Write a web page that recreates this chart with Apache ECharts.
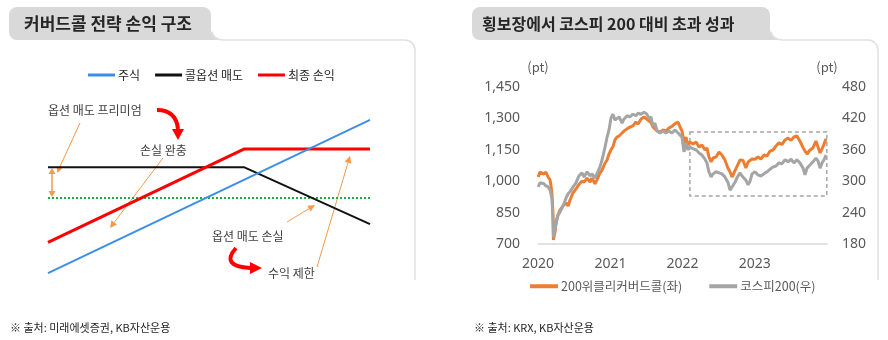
<!DOCTYPE html>
<html>
<head>
<meta charset="utf-8">
<script src="https://cdn.jsdelivr.net/npm/echarts@6/dist/echarts.min.js"></script>
<style>
  html, body { margin: 0; padding: 0; background: #ffffff; }
  #chart { width: 888px; height: 340px; }
</style>
</head>
<body>
<div id="chart"></div>
<script>
// ---- Covered call payoff structure (underlying price vs. P&L) ----
const payoffPrice   = [0, 61, 100];
const stockPnl      = [-49, 12, 51];
const callSellPnl   = [20, 20, -17];
const finalPnl      = [-29, 32, 32];
const breakEvenLine = [0, 0, 0];

// ---- 200 weekly covered call vs. KOSPI 200 ----
const tradeDates = [
  '2020-01-02','2020-01-11','2020-01-21','2020-01-31','2020-02-10','2020-02-21','2020-03-02','2020-03-07','2020-03-12','2020-03-17',
  '2020-03-19','2020-03-27','2020-04-01','2020-04-11','2020-04-21','2020-05-06','2020-05-22','2020-06-01','2020-06-11','2020-06-26',
  '2020-07-11','2020-07-26','2020-08-10','2020-08-21','2020-09-05','2020-09-20','2020-09-30','2020-10-15','2020-10-25','2020-11-09',
  '2020-11-20','2020-12-05','2020-12-15','2020-12-25','2021-01-04','2021-01-14','2021-01-24','2021-02-03','2021-02-14','2021-03-01',
  '2021-03-11','2021-03-26','2021-04-10','2021-04-25','2021-05-10','2021-05-21','2021-06-05','2021-06-20','2021-07-05','2021-07-15',
  '2021-07-25','2021-08-04','2021-08-14','2021-08-25','2021-09-09','2021-09-24','2021-10-09','2021-10-24','2021-11-08','2021-11-24',
  '2021-12-09','2021-12-19','2021-12-29','2022-01-08','2022-01-18','2022-01-28','2022-02-07','2022-02-23','2022-03-10','2022-03-25',
  '2022-04-09','2022-04-24','2022-05-04','2022-05-14','2022-05-25','2022-06-04','2022-06-19','2022-07-04','2022-07-19','2022-08-03',
  '2022-08-18','2022-08-29','2022-09-08','2022-09-23','2022-10-08','2022-10-18','2022-11-02','2022-11-17','2022-11-28','2022-12-08',
  '2022-12-18','2023-01-02','2023-01-17','2023-02-01','2023-02-16','2023-03-04','2023-03-19','2023-04-03','2023-04-18','2023-05-03',
  '2023-05-18','2023-06-03','2023-06-18','2023-07-03','2023-07-18','2023-08-02','2023-08-17','2023-09-02','2023-09-12','2023-09-22',
  '2023-10-07','2023-10-22','2023-11-06','2023-11-16','2023-11-27','2023-12-07','2023-12-17','2023-12-27'
];
const weeklyCoveredCall = [
  1020,1044,1053,1034,1044,1020,1006,977,934,839,
  719,757,805,839,862,882,896,882,910,944,
  963,985,1000,996,1015,996,1015,987,1006,1039,
  1053,1087,1101,1130,1150,1165,1197,1211,1216,1230,
  1240,1250,1259,1264,1283,1273,1297,1307,1295,1290,
  1280,1259,1268,1240,1235,1245,1240,1254,1262,1275,
  1283,1259,1240,1182,1211,1173,1187,1178,1187,1163,
  1173,1149,1159,1116,1092,1111,1116,1139,1125,1101,
  1063,1044,1020,1050,1080,1101,1100,1063,1092,1100,
  1106,1105,1116,1106,1125,1120,1144,1149,1168,1183,
  1175,1197,1206,1195,1211,1216,1192,1160,1144,1130,
  1149,1159,1192,1197,1135,1154,1178,1202
];
const kospi200 = [
  289,297,298,295,291,289,283,275,264,222,
  193,207,218,235,241,252,268,276,280,289,
  297,310,316,308,318,310,314,306,308,327,
  341,365,384,398,421,428,417,415,423,411,
  419,425,423,428,425,430,428,432,428,419,
  423,405,411,396,392,396,392,396,392,398,
  392,390,384,356,373,360,365,362,360,354,
  350,342,335,318,308,314,318,316,314,308,
  298,283,289,298,310,316,308,302,293,300,
  314,318,312,310,314,318,323,327,329,335,
  333,341,337,342,335,341,335,325,312,325,
  331,337,344,339,325,335,341,350
];
const leftTicks  = { min: 700, max: 1450, step: 150 };
const rightTicks = { min: 180, max: 480, step: 60 };
// sideways-market window (dashed box)
const rangeWindow = { from: '2022-02-07', to: '2023-12-31', low: 929, high: 1235 };

const KR = '"Noto Sans CJK KR", "Noto Sans", sans-serif';
const ORANGE_ANN = '#f39a4c';
const FRAME = '#e0e0e0';
const TAB = '#d9d9d9';

function pairs(xs, ys) { return xs.map((x, i) => [x, ys[i]]); }

// thin straight arrow with a triangular head at (x2, y2)
function arrow(x1, y1, x2, y2, color, width, len, half) {
  const a = Math.atan2(y2 - y1, x2 - x1);
  const bx = x2 - len * Math.cos(a), by = y2 - len * Math.sin(a);
  const px = -Math.sin(a) * half, py = Math.cos(a) * half;
  return [
    { type: 'line', silent: true, shape: { x1: x1, y1: y1, x2: bx, y2: by }, style: { stroke: color, lineWidth: width } },
    { type: 'polygon', silent: true, shape: { points: [[x2, y2], [bx + px, by + py], [bx - px, by - py]] }, style: { fill: color } }
  ];
}
function head(tipX, tipY, fromX, fromY, color, len, half) {
  const a = Math.atan2(tipY - fromY, tipX - fromX);
  const bx = tipX - len * Math.cos(a), by = tipY - len * Math.sin(a);
  const px = -Math.sin(a) * half, py = Math.cos(a) * half;
  return { type: 'polygon', silent: true, shape: { points: [[tipX, tipY], [bx + px, by + py], [bx - px, by - py]] }, style: { fill: color } };
}
function txt(x, y, s, size, color, weight) {
  return { type: 'text', silent: true, x: x, y: y,
    style: { text: s, fill: color, font: (weight || 'normal') + ' ' + size + 'px ' + KR, textVerticalAlign: 'middle', textAlign: 'left' } };
}
// title tab with a flared bottom-right corner, plus the panel frame (top edge + right side)
function panel(tabLeft, tabRight, frameRight) {
  const top = 7, bottom = 40, fx = tabRight + 12;
  const flare = [[tabRight, bottom - 10]];
  for (let i = 1; i <= 8; i++) {
    const t = i / 8;
    const x = (1 - t) * (1 - t) * tabRight + 2 * t * (1 - t) * (tabRight + 2) + t * t * fx;
    const y = (1 - t) * (1 - t) * (bottom - 10) + 2 * t * (1 - t) * bottom + t * t * bottom;
    flare.push([x, y]);
  }
  flare.push([tabRight, bottom]);
  return [
    { type: 'rect', silent: true, shape: { x: tabLeft, y: top, width: tabRight - tabLeft, height: bottom - top, r: [8, 8, 0, 8] }, style: { fill: TAB } },
    { type: 'polygon', silent: true, shape: { points: flare }, style: { fill: TAB } },
    { type: 'bezierCurve', silent: true, shape: { x1: tabRight + 1, y1: bottom - 8, cpx1: tabRight + 3, cpy1: bottom, x2: fx + 1, y2: bottom }, style: { stroke: FRAME, lineWidth: 1.5, fill: null } },
    { type: 'line', silent: true, shape: { x1: fx + 1, y1: bottom, x2: frameRight - 10, y2: bottom }, style: { stroke: FRAME, lineWidth: 1.5 } },
    { type: 'arc', silent: true, shape: { cx: frameRight - 10, cy: bottom + 10, r: 10, startAngle: -Math.PI / 2, endAngle: 0 }, style: { stroke: FRAME, lineWidth: 1.5, fill: null } },
    { type: 'line', silent: true, shape: { x1: frameRight, y1: bottom + 10, x2: frameRight, y2: 280 }, style: { stroke: FRAME, lineWidth: 1.5 } }
  ];
}

const chart = echarts.init(document.getElementById('chart'), null, { renderer: 'canvas' });

const graphics = [
  ...panel(9, 211, 415),
  ...panel(472, 770, 878),
  txt(24, 24, '커버드콜 전략 손익 구조', 17, '#262626', 'bold'),
  txt(482, 24, '횡보장에서 코스피 200 대비 초과 성과', 16, '#262626', 'bold'),
  txt(10, 328, '※ 출처: 미래에셋증권, KB자산운용', 11, '#262626'),
  txt(474, 328, '※ 출처: KRX, KB자산운용', 11, '#262626'),
  // payoff annotations
  txt(48, 110, '옵션 매도 프리미엄', 12, '#404040'),
  txt(140, 150, '손실 완충', 12, '#404040'),
  txt(212, 236, '옵션 매도 손실', 12, '#404040'),
  txt(268, 273, '수익 제한', 12, '#404040'),
  // red curved arrows
  { type: 'bezierCurve', silent: true, shape: { x1: 157, y1: 110, cpx1: 176, cpy1: 110, x2: 178, y2: 129 }, style: { stroke: '#ff0000', lineWidth: 4, fill: null } },
  head(178, 140, 178, 128, '#ff0000', 11, 6),
  { type: 'bezierCurve', silent: true, shape: { x1: 236, y1: 248, cpx1: 220, cpy1: 266, x2: 250, y2: 268 }, style: { stroke: '#ff0000', lineWidth: 4, fill: null } },
  head(262, 268, 249, 268, '#ff0000', 12, 6),
  // orange pointers
  ...arrow(80, 123, 57, 173, ORANGE_ANN, 1, 6, 3),
  ...arrow(52, 182, 52, 168, ORANGE_ANN, 1.5, 6, 3.5),
  ...arrow(52, 182, 52, 197, ORANGE_ANN, 1.5, 6, 3.5),
  ...arrow(163, 158, 110, 228, ORANGE_ANN, 1, 7, 3.5),
  ...arrow(287, 222, 315, 205, ORANGE_ANN, 1, 7, 3.5),
  ...arrow(317, 267, 350, 156, ORANGE_ANN, 1, 7, 3.5)
];

const option = {
  animation: false,
  backgroundColor: '#ffffff',
  textStyle: { fontFamily: KR },
  grid: [
    { left: 48, width: 322, top: 106, height: 184 },
    { left: 538, width: 289, top: 87, height: 157 }
  ],
  xAxis: [
    { gridIndex: 0, type: 'value', min: 0, max: 100, show: false },
    { gridIndex: 1, type: 'time', min: '2020-01-01', max: '2024-01-01',
      minInterval: 365 * 24 * 3600 * 1000, maxInterval: 366 * 24 * 3600 * 1000,
      axisLine: { lineStyle: { color: '#d9d9d9', width: 1.5 } },
      axisTick: { show: false }, splitLine: { show: false },
      axisLabel: { color: '#595959', fontSize: 14, margin: 13, fontFamily: '"Noto Sans", sans-serif',
        formatter: function (v) { const y = new Date(v).getFullYear(); return y >= 2024 ? '' : String(y); } } }
  ],
  yAxis: [
    { gridIndex: 0, type: 'value', min: -60, max: 60, show: false },
    { gridIndex: 1, type: 'value', position: 'left', min: leftTicks.min, max: leftTicks.max, interval: leftTicks.step,
      name: '(pt)', nameLocation: 'end', nameGap: 13, nameTextStyle: { color: '#595959', fontSize: 13, align: 'center' },
      axisLine: { show: false }, axisTick: { show: false }, splitLine: { show: false },
      axisLabel: { color: '#595959', fontSize: 14, margin: 18, fontFamily: '"Noto Sans", sans-serif',
        formatter: function (v) { return v.toLocaleString('en-US'); } } },
    { gridIndex: 1, type: 'value', position: 'right', min: rightTicks.min, max: rightTicks.max, interval: rightTicks.step,
      name: '(pt)', nameLocation: 'end', nameGap: 13, nameTextStyle: { color: '#595959', fontSize: 13, align: 'center' },
      axisLine: { show: false }, axisTick: { show: false }, splitLine: { show: false },
      axisLabel: { color: '#595959', fontSize: 14, margin: 15, fontFamily: '"Noto Sans", sans-serif' } }
  ],
  legend: [
    { data: ['주식', '콜옵션 매도', '최종 손익'], left: 83, top: 64, icon: 'rect', itemWidth: 27, itemHeight: 3, itemGap: 15,
      selectedMode: false, textStyle: { fontSize: 12, color: '#262626', fontFamily: KR, padding: [0, 0, 0, -2] } },
    { data: ['200위클리커버드콜(좌)', '코스피200(우)'], left: 525, top: 275, icon: 'rect', itemWidth: 28, itemHeight: 4, itemGap: 27,
      selectedMode: false, textStyle: { fontSize: 12.5, color: '#595959', fontFamily: KR, padding: [0, 0, 0, -2] } }
  ],
  graphic: graphics,
  series: [
    { name: '손익분기', type: 'line', xAxisIndex: 0, yAxisIndex: 0, data: pairs(payoffPrice, breakEvenLine), showSymbol: false, silent: true,
      lineStyle: { color: '#1faa4a', width: 2, type: [2, 2] } },
    { name: '콜옵션 매도', type: 'line', xAxisIndex: 0, yAxisIndex: 0, data: pairs(payoffPrice, callSellPnl), showSymbol: false, silent: true,
      color: '#111111', lineStyle: { color: '#111111', width: 2 } },
    { name: '최종 손익', type: 'line', xAxisIndex: 0, yAxisIndex: 0, data: pairs(payoffPrice, finalPnl), showSymbol: false, silent: true,
      color: '#ff0000', lineStyle: { color: '#ff0000', width: 3 } },
    { name: '주식', type: 'line', xAxisIndex: 0, yAxisIndex: 0, data: pairs(payoffPrice, stockPnl), showSymbol: false, silent: true,
      color: '#3d8ee6', lineStyle: { color: '#3d8ee6', width: 2 } },
    { name: '200위클리커버드콜(좌)', type: 'line', xAxisIndex: 1, yAxisIndex: 1, data: pairs(tradeDates, weeklyCoveredCall),
      showSymbol: false, silent: true, color: '#ed7d31', lineStyle: { color: '#ed7d31', width: 3 },
      markArea: { silent: true,
        itemStyle: { color: 'rgba(0,0,0,0)', borderColor: '#a6a6a6', borderWidth: 1.5, borderType: [4, 3] },
        data: [[{ coord: [rangeWindow.from, rangeWindow.high] }, { coord: [rangeWindow.to, rangeWindow.low] }]] } },
    { name: '코스피200(우)', type: 'line', xAxisIndex: 1, yAxisIndex: 2, data: pairs(tradeDates, kospi200),
      showSymbol: false, silent: true, color: '#a5a5a5', lineStyle: { color: '#a5a5a5', width: 3 } }
  ]
};

chart.setOption(option);
</script>
</body>
</html>
